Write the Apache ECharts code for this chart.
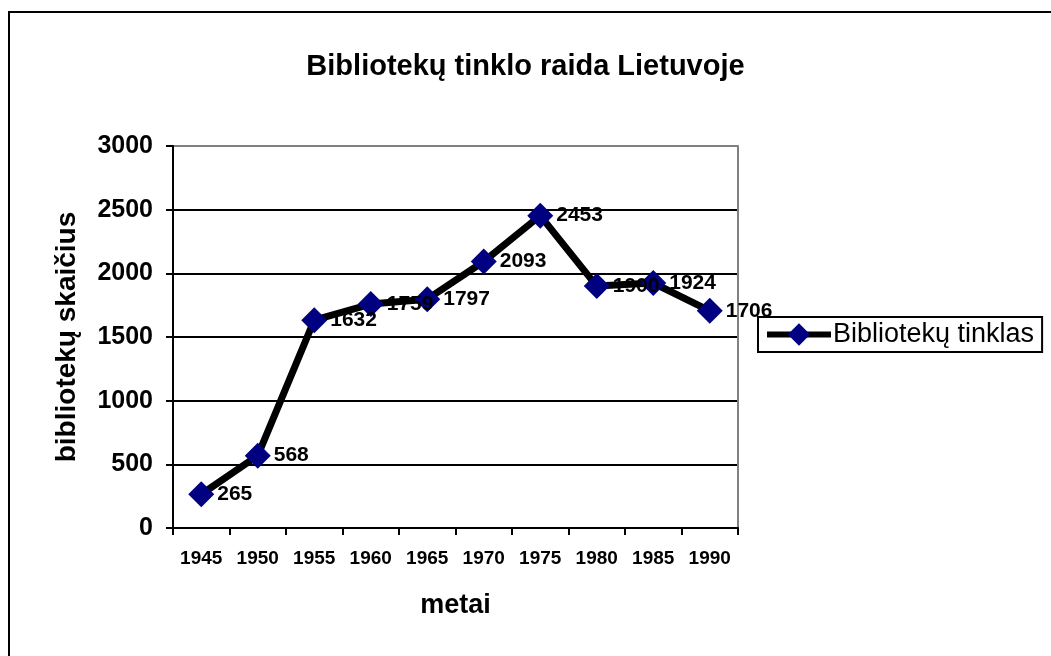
<!DOCTYPE html>
<html>
<head>
<meta charset="utf-8">
<script src="https://cdn.jsdelivr.net/npm/echarts@6/dist/echarts.min.js"></script>
<style>
  html, body { margin: 0; padding: 0; background: #fff; }
  #chart { width: 1051px; height: 656px; }
</style>
</head>
<body>
<div id="chart"></div>
<script>
const titleText = 'Bibliotekų tinklo raida Lietuvoje';
const seriesName = 'Bibliotekų tinklas';
const years = ['1945', '1950', '1955', '1960', '1965', '1970', '1975', '1980', '1985', '1990'];
const libraries = [265, 568, 1632, 1759, 1797, 2093, 2453, 1900, 1924, 1706];
const yAxisName = 'bibliotekų skaičius';
const xAxisName = 'metai';

const FONT = '"Liberation Sans", Arial, sans-serif';
const chart = echarts.init(document.getElementById('chart'), null, { renderer: 'canvas' });

chart.setOption({
  backgroundColor: '#ffffff',
  animation: false,
  textStyle: { fontFamily: FONT, color: '#000' },
  title: {
    text: titleText,
    left: 'center',
    top: 47,
    textStyle: { fontFamily: FONT, fontSize: 29, fontWeight: 'bold', color: '#000' }
  },
  legend: {
    left: 758,
    top: 317,
    padding: [4, 8, 4, 6],
    borderColor: '#000',
    borderWidth: 2,
    itemWidth: 64,
    itemHeight: 28,
    itemGap: 0,
    lineStyle: { color: '#000', width: 6 },
    itemStyle: { color: '#000080' },
    textStyle: { fontFamily: FONT, fontSize: 27, color: '#000', padding: [0, 0, 0, -3] },
    data: [seriesName]
  },
  grid: { left: 173, right: 313, top: 146, bottom: 128, containLabel: false },
  xAxis: {
    type: 'category',
    data: years,
    boundaryGap: true,
    name: xAxisName,
    nameLocation: 'middle',
    nameGap: 64,
    nameTextStyle: { fontFamily: FONT, fontSize: 27, fontWeight: 'bold', color: '#000' },
    axisLine: { lineStyle: { color: '#000', width: 2 } },
    axisTick: { show: true, alignWithLabel: false, length: 7, lineStyle: { color: '#000', width: 2 } },
    axisLabel: { fontFamily: FONT, fontSize: 19, fontWeight: 'bold', color: '#000', margin: 21, interval: 0 },
    splitLine: { show: false }
  },
  yAxis: [{
    type: 'value',
    min: 0,
    max: 3000,
    interval: 500,
    name: yAxisName,
    nameLocation: 'middle',
    nameGap: 92,
    nameRotate: 90,
    nameTextStyle: { fontFamily: FONT, fontSize: 28, fontWeight: 'bold', color: '#000' },
    axisLine: { show: true, lineStyle: { color: '#000', width: 2 } },
    axisTick: { show: true, length: 7, lineStyle: { color: '#000', width: 2 } },
    axisLabel: { fontFamily: FONT, fontSize: 25, fontWeight: 'bold', color: '#000', margin: 20,
      formatter: function (v) { return String(v); } },
    splitLine: { show: true, lineStyle: { color: ['#000', '#000', '#000', '#000', '#000', '#000', '#808080'], width: 2 } }
  }, {
    type: 'value',
    position: 'right',
    min: 0,
    max: 3000,
    interval: 500,
    axisLine: { show: true, lineStyle: { color: '#808080', width: 2 } },
    axisTick: { show: false },
    axisLabel: { show: false },
    splitLine: { show: false }
  }],
  series: [{
    name: seriesName,
    type: 'line',
    data: libraries,
    yAxisIndex: 0,
    symbol: 'diamond',
    symbolSize: 26,
    color: '#000',
    lineStyle: { color: '#000', width: 7 },
    itemStyle: { color: '#000080', borderWidth: 0 },
    label: {
      show: true,
      position: 'right',
      distance: 3,
      fontFamily: FONT,
      fontSize: 21,
      fontWeight: 'bold',
      color: '#000'
    },
    z: 3
  }],
  graphic: [{
    type: 'rect',
    shape: { x: 9, y: 12, width: 1100, height: 700 },
    style: { fill: 'none', stroke: '#000', lineWidth: 2 },
    silent: true
  }]
});
</script>
</body>
</html>
